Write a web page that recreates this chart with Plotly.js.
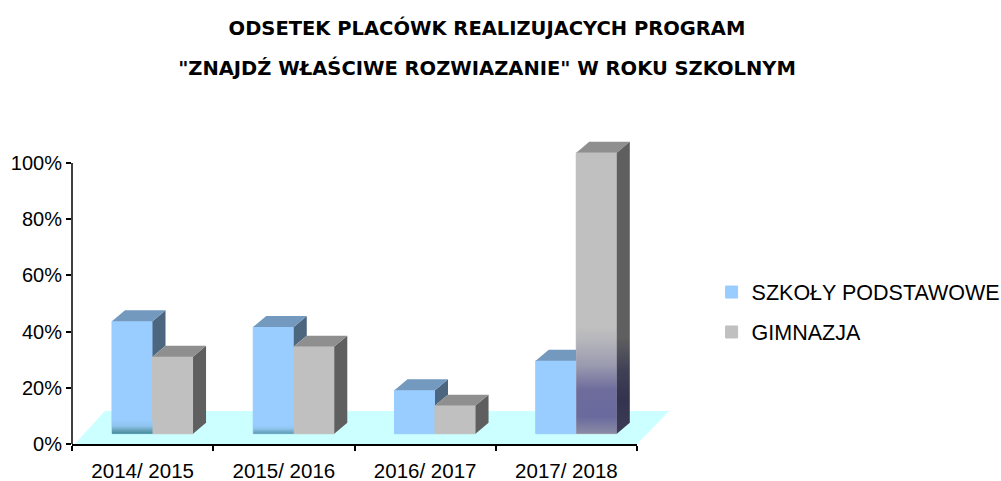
<!DOCTYPE html>
<html><head><meta charset="utf-8">
<script src="https://cdn.plot.ly/plotly-3.0.1.min.js"></script>
<style>html,body{margin:0;padding:0;background:#fff}#c{width:1001px;height:481px}</style>
</head><body><div id="c"></div>
<script>
const years = ['2014/ 2015','2015/ 2016','2016/ 2017','2017/ 2018'];
const schools = [0.40,0.38,0.155,0.26];
const gimnazja = [0.274,0.31,0.10,1.0];
const schoolName = 'SZKOŁY PODSTAWOWE';
const gimName = 'GIMNAZJA';
const titleLines = ['ODSETEK PLACÓWK REALIZUJACYCH PROGRAM','"ZNAJDŹ WŁAŚCIWE ROZWIAZANIE" W ROKU SZKOLNYM'];

const base = 0.0367, barW = 0.287, offS = -0.217, offG = 0.07, dx = 0.092, dy = 0.039;
const xs = years.map((_,i)=>i);

function poly(name, color, pts){
  return {type:'scatter',mode:'lines',x:pts.x,y:pts.y,fill:'toself',fillcolor:color,line:{width:0,color:color},
    showlegend:false,hoverinfo:'skip',cliponaxis:false,name:name};
}
function faces(fn){ const x=[],y=[]; xs.forEach(i=>{ fn(i).forEach(p=>{x.push(p[0]);y.push(p[1]);}); x.push(null);y.push(null);}); return {x,y}; }

const traces = [
 {type:'bar',name:schoolName,legendgroup:'a',x:xs,y:schools,base:base,offset:offS,width:barW,marker:{color:'#99CCFF',line:{width:1,color:'#99CCFF'}},cliponaxis:false},
 {type:'bar',name:gimName,legendgroup:'b',x:xs,y:gimnazja,base:base,offset:offG,width:barW,marker:{color:'#C0C0C0',line:{width:1,color:'#C0C0C0'}},cliponaxis:false},
 poly('s-side','#4C6680',faces(i=>{
   const xr=i+offS+barW, v=schools[i]+base, g=gimnazja[i]+base;
   return v>g ? [[xr,g],[xr,v],[xr+dx,v+dy],[xr+dx,g+dy],[xr,g]] : [];
 })),
 poly('s-top','#7399BF',faces(i=>{
   const xl=i+offS, xr=i+offG, v=schools[i]+base, g=gimnazja[i]+base;
   return v>g ? [[xl,v],[xl+dx,v+dy],[xl+barW+dx,v+dy],[xl+barW,v],[xl,v]] : [[xl,v],[xl+dx,v+dy],[xr,v+dy],[xr,v],[xl,v]];
 })),
 poly('g-side','#5F5F5F',faces(i=>{
   const xr=i+offG+barW, g=gimnazja[i]+base;
   return i===3 ? [] : [[xr,base],[xr,g],[xr+dx,g+dy],[xr+dx,base+dy],[xr,base]];
 })),
 poly('g-top','#8F8F8F',faces(i=>{
   const xl=i+offG, xr=xl+barW, g=gimnazja[i]+base;
   return [[xl,g],[xl+dx,g+dy],[xr+dx,g+dy],[xr,g],[xl,g]];
 }))
];

function grad(x,y,start,stop,cs){
  return {type:'scatter',mode:'lines',x,y,fill:'toself',line:{width:0},showlegend:false,hoverinfo:'skip',cliponaxis:false,
    fillgradient:{type:'vertical',start,stop,colorscale:cs}};
}
const l0=0+offS, l1=1+offS, g3=3+offG, g3top=gimnazja[3]+base;
traces.push(grad([l0,l0+barW,l0+barW,l0,l0],[base,base,base+0.05,base+0.05,base],base,base+0.05,
  [[0,'#3F8A96'],[0.15,'#5B9AAE'],[0.55,'#8FC4EE'],[1,'#99CCFF']]));
traces.push(grad([l1,l1+barW,l1+barW,l1,l1],[base,base,base+0.03,base+0.03,base],base,base+0.03,
  [[0,'#5B9AAE'],[0.6,'#8FC4EE'],[1,'#99CCFF']]));
traces.push(grad([g3,g3+barW,g3+barW,g3,g3],[base,base,g3top,g3top,base],base,g3top,
  [[0,'#8A8AA6'],[0.06,'#6A6A9E'],[0.156,'#6E6C9C'],[0.245,'#9B9BB0'],[0.335,'#B6B6BC'],[0.38,'#C0C0C0'],[1,'#C0C0C0']]));
const gr=g3+barW;
traces.push(grad([gr,gr,gr+dx,gr+dx,gr],[base,g3top,g3top+dy,base+dy,base],base,g3top+dy,
  [[0,'#3C3C55'],[0.12,'#33334F'],[0.21,'#3F3F55'],[0.33,'#5F5F5F'],[1,'#5F5F5F']]));

const layout = {
  width:1001,height:481,
  margin:{l:72,r:364,t:135,b:37,autoexpand:false},
  paper_bgcolor:'#fff',plot_bgcolor:'rgba(0,0,0,0)',
  barmode:'overlay',
  font:{family:'"Liberation Sans",Arial,sans-serif',size:20,color:'#000'},
  title:{text:'<span style="font-size:19.5px">'+titleLines[0]+'<br>'+titleLines[1]+'</span>',
    font:{family:'"DejaVu Sans"',size:31,color:'#000',weight:700},x:0.4865,xanchor:'center',y:0.928,yanchor:'top'},
  xaxis:{type:'linear',range:[-0.5,3.5],tickmode:'array',tickvals:xs,ticktext:years,ticks:'',showgrid:false,zeroline:false,
    showline:true,linecolor:'#000',linewidth:1.5,tickfont:{size:20.5},ticklabelstandoff:8,
    minor:{tickmode:'array',tickvals:[-0.5,0.5,1.5,2.5,3.5],ticks:'outside',ticklen:5,tickwidth:1.5,tickcolor:'#000',showgrid:false}},
  yaxis:{range:[0,1.1],tickvals:[0,0.2,0.4,0.6,0.8,1],ticktext:['0%','20%','40%','60%','80%','100%'],ticks:'outside',ticklen:5,tickwidth:1.5,tickcolor:'#000',
    showgrid:false,zeroline:false,showline:false,tickfont:{size:20}},
  shapes:[
    {type:'path',xref:'paper',yref:'paper',layer:'below',line:{width:0},fillcolor:'#CCFFFF',
      path:'M 0.005 0 L 0.058 0.107 L 1.057 0.107 L 1 0 Z'},
    {type:'line',xref:'paper',yref:'y',x0:0,x1:0,y0:0,y1:1,line:{color:'#000',width:1.5},layer:'above'}
  ],
  legend:{x:1.132,xref:'paper',xanchor:'left',y:0.427,yanchor:'middle',font:{size:21.5},bgcolor:'rgba(0,0,0,0)',
    tracegroupgap:9,itemwidth:30}
};
Plotly.newPlot('c',traces,layout,{displayModeBar:false,responsive:false});
</script></body></html>
